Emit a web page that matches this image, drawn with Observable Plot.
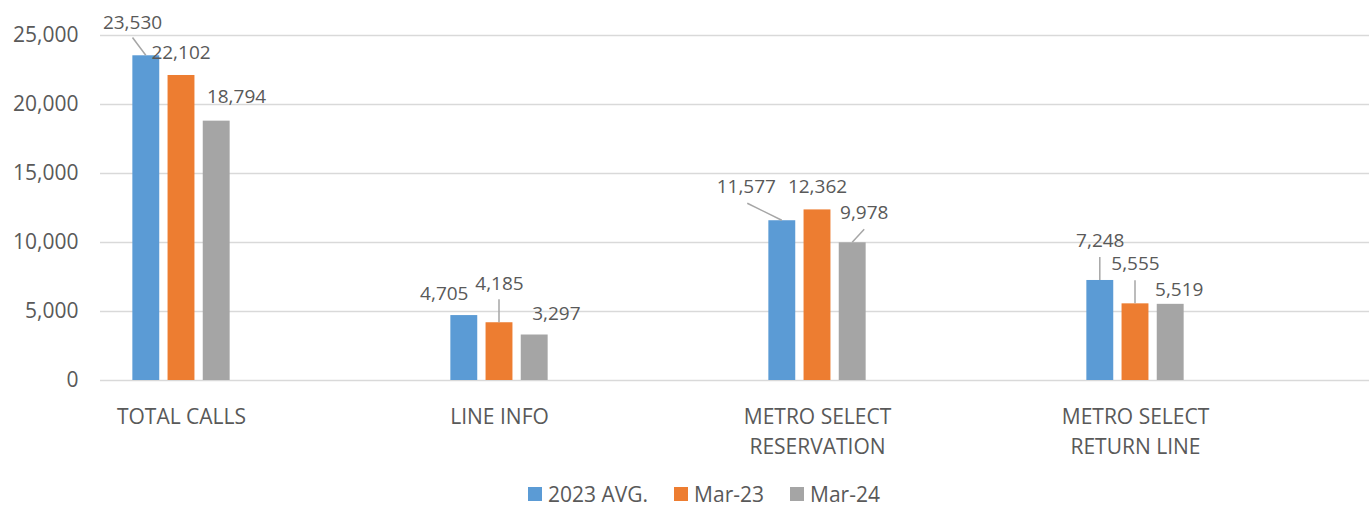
<!DOCTYPE html>
<html><head><meta charset="utf-8">
<script src="https://cdn.jsdelivr.net/npm/d3@7"></script>
<script src="https://cdn.jsdelivr.net/npm/@observablehq/plot@0.6"></script>
<style>
body{margin:0;background:#fff;font-family:"Open Sans",sans-serif;}
#legend{display:flex;justify-content:center;align-items:center;gap:26px;width:1369px;box-sizing:border-box;padding-left:39px;margin-top:12px;height:24px;font-size:21px;color:#595959;}
#legend .item{display:flex;align-items:center;gap:6px;}
#legend .sw{width:14px;height:14px;display:inline-block;}
</style></head><body><div id="chart"></div><div id="legend"></div><script>
// ---- data ----
const categories = ["TOTAL CALLS", "LINE INFO", "METRO SELECT\nRESERVATION", "METRO SELECT\nRETURN LINE"];
const series = ["2023 AVG.", "Mar-23", "Mar-24"];
const avg2023 = [23530, 4705, 11577, 7248];
const mar23 = [22102, 4185, 12362, 5555];
const mar24 = [18794, 3297, 9978, 5519];
const yTicks = [0, 5000, 10000, 15000, 20000, 25000];

// ---- styling / layout ----
const colors = ["#5B9BD5", "#ED7D31", "#A5A5A5"];
const textColor = "#595959";
const seriesDx = [-35.2, 0, 35.2];
const barWidth = 27.5;
const xRange = [21.2, 1295.6];
const inset = ((xRange[1] - xRange[0]) / categories.length - barWidth) / 2;
// data label offsets [dx, dy] from bar top centre, per category then series
const labelOffsets = [
  [[-13.8, -33.3], [-0.5, -23], [19.8, -24.3]],
  [[-20, -21.5], [0, -39], [21.7, -21]],
  [[-36, -33.5], [0, -22.7], [11.5, -29.6]],
  [[0, -39.3], [0, -39.7], [8.5, -14.2]]
];
// leader lines: [category, series, dx, dy] of the far end from bar top centre
const leaders = [[0, 0, -13.3, -17.8], [1, 1, 0, -23], [2, 0, -34.5, -17], [2, 2, 12, -13], [3, 0, 0, -23], [3, 1, 0, -23]];

const values = [avg2023, mar23, mar24];
const rows = [];
categories.forEach((c, ci) => series.forEach((s, si) => rows.push({category: c, series: s, value: values[si][ci], ci, si})));
const fmt = d3.format(",");

const marks = [
  Plot.ruleY(yTicks, {stroke: "#d9d9d9", strokeWidth: 1.5}),
  ...series.map((s, si) => Plot.barY(rows.filter(r => r.si === si), {
    x: "category", y: "value", fill: colors[si], dx: seriesDx[si], insetLeft: inset, insetRight: inset
  })),
  (index, scales) => {
    const {x, y} = scales;
    const g = d3.create("svg:g");
    const half = x.bandwidth ? x.bandwidth() / 2 : 0;
    leaders.forEach(([ci, si, ldx, ldy]) => {
      const r = rows.find(d => d.ci === ci && d.si === si);
      const cx = x(r.category) + half + seriesDx[si];
      const cy = y(r.value);
      g.append("line").attr("x1", cx).attr("y1", cy).attr("x2", cx + ldx).attr("y2", cy + ldy)
        .attr("stroke", "#a6a6a6").attr("stroke-width", 1.5);
    });
    return g.node();
  },
  ...rows.map(r => Plot.text([r], {
    x: "category", y: "value", text: d => fmt(d.value),
    dx: seriesDx[r.si] + labelOffsets[r.ci][r.si][0], dy: labelOffsets[r.ci][r.si][1],
    fontSize: 19, fill: textColor, lineAnchor: "middle", textAnchor: "middle"
  })),
  Plot.axisY({ticks: yTicks, tickFormat: fmt, tickSize: 0, tickPadding: 22, fontSize: 21, label: null}),
  Plot.axisX({tickSize: 0, tickPadding: 22, fontSize: 21, lineHeight: 1.43, lineAnchor: "top", label: null})
];

const chart = Plot.plot({
  width: 1369, height: 470,
  marginLeft: 100, marginRight: 0, marginTop: 35, marginBottom: 90,
  x: {type: "band", domain: categories, range: xRange, padding: 0},
  y: {domain: [0, 25000]},
  style: {fontFamily: "Open Sans", color: textColor, background: "#fff", overflow: "visible"},
  marks
});
document.getElementById("chart").append(chart);

const legend = document.getElementById("legend");
series.forEach((s, si) => {
  const item = document.createElement("div");
  item.className = "item";
  const sw = document.createElement("span");
  sw.className = "sw"; sw.style.background = colors[si];
  const t = document.createElement("span");
  t.textContent = s;
  item.append(sw, t);
  legend.append(item);
});
</script></body></html>
